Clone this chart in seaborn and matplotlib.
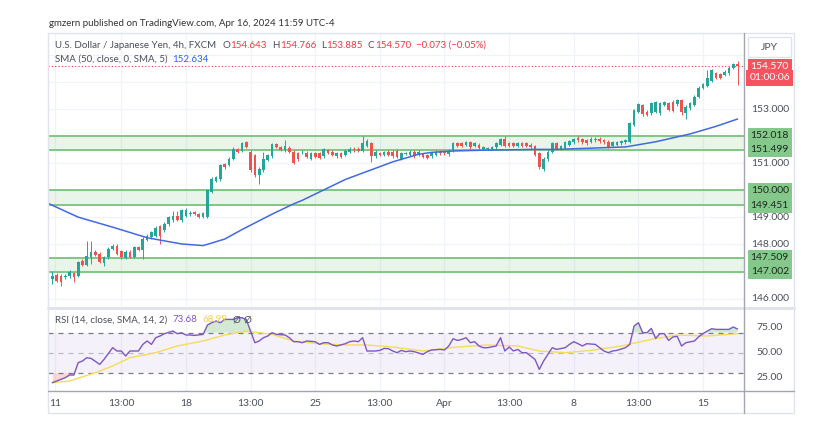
import numpy as np
import pandas as pd
import matplotlib
matplotlib.use("Agg")
import matplotlib.pyplot as plt
import seaborn as sns
from matplotlib.lines import Line2D
from matplotlib.patches import Rectangle

# USD/JPY 4h candles (Mar 11 -> Apr 16, 2024)
opens = [146.73, 146.89, 146.85, 146.79, 146.82, 146.94, 146.85, 147.38, 147.26, 147.53,
         147.72, 147.66, 147.30, 147.53, 147.84, 147.93, 147.75, 147.49, 147.74, 147.53,
         147.90, 147.78, 148.17, 148.27, 148.33, 148.67, 148.52, 148.74, 148.89, 149.07,
         148.89, 149.07, 149.12, 149.20, 149.11, 149.01, 149.03, 149.94, 150.35, 150.40,
         150.96, 150.93, 151.17, 151.51, 151.46, 151.78, 151.42, 151.30, 150.56, 150.74,
         151.13, 151.26, 151.70, 151.60, 151.48, 151.57, 151.42, 151.38, 151.40, 151.39,
         151.17, 151.38, 151.36, 151.26, 151.48, 151.42, 151.26, 151.36, 151.30, 151.42,
         151.54, 151.54, 151.46, 151.63, 151.75, 151.26, 151.38, 151.30, 151.42, 151.42,
         151.46, 151.17, 151.35, 151.30, 151.42, 151.30, 151.33, 151.30, 151.26, 151.30,
         151.42, 151.42, 151.33, 151.48, 151.73, 151.73, 151.67, 151.77, 151.63, 151.69,
         151.53, 151.54, 151.53, 151.58, 151.67, 151.91, 151.73, 151.73, 151.63, 151.73,
         151.75, 151.69, 151.63, 151.36, 150.80, 151.14, 151.42, 151.73, 151.52, 151.57,
         151.69, 151.77, 151.94, 151.89, 151.85, 151.79, 151.91, 151.91, 151.85, 151.79,
         151.64, 151.69, 151.73, 151.77, 151.79, 152.41, 152.90, 153.15, 152.90, 152.84,
         152.90, 152.84, 153.15, 153.21, 153.27, 153.17, 153.33, 152.84, 153.02, 153.15,
         153.46, 153.77, 153.86, 154.04, 154.32, 154.28, 154.26, 154.32, 154.53, 154.643]
closes = [146.85, 146.67, 146.63, 146.85, 146.98, 146.79, 147.35, 147.26, 147.59, 147.72,
          147.63, 147.35, 147.53, 147.84, 147.96, 147.66, 147.53, 147.74, 147.53, 147.90,
          147.80, 148.21, 148.33, 148.46, 148.62, 148.30, 148.77, 149.01, 149.07, 148.91,
          149.26, 149.26, 149.15, 149.14, 149.03, 149.16, 150.00, 150.43, 150.49, 150.93,
          150.86, 151.17, 151.54, 151.42, 151.75, 151.60, 150.74, 150.56, 150.80, 151.17,
          151.30, 151.70, 151.60, 151.50, 151.63, 151.42, 151.01, 151.14, 151.42, 151.23,
          151.36, 151.23, 151.21, 151.51, 151.38, 151.30, 151.36, 151.23, 151.46, 151.54,
          151.48, 151.46, 151.75, 151.83, 151.26, 151.42, 151.30, 151.40, 151.30, 151.26,
          151.23, 151.36, 151.36, 151.42, 151.26, 151.42, 151.23, 151.21, 151.36, 151.42,
          151.36, 151.36, 151.46, 151.73, 151.63, 151.63, 151.77, 151.58, 151.73, 151.57,
          151.58, 151.55, 151.60, 151.73, 151.88, 151.63, 151.63, 151.63, 151.73, 151.63,
          151.63, 151.58, 151.30, 150.86, 151.17, 151.42, 151.73, 151.54, 151.64, 151.77,
          151.81, 151.89, 151.85, 151.77, 151.73, 151.91, 151.85, 151.81, 151.77, 151.60,
          151.77, 151.77, 151.81, 151.85, 152.47, 152.96, 153.17, 152.80, 152.78, 153.21,
          153.25, 153.21, 153.25, 152.96, 152.93, 153.33, 152.88, 153.09, 153.21, 153.46,
          153.79, 153.91, 154.16, 154.44, 154.16, 154.16, 154.38, 154.53, 154.65, 154.570]
highs = [147.04, 146.95, 146.90, 146.90, 147.05, 146.99, 147.40, 147.45, 148.12, 148.12,
         147.78, 147.72, 147.58, 147.90, 148.02, 148.00, 147.80, 147.79, 147.78, 147.95,
         147.95, 148.26, 148.38, 148.51, 148.67, 148.72, 148.82, 149.06, 149.25, 149.22,
         149.30, 149.35, 149.22, 149.25, 149.16, 149.21, 150.05, 150.48, 150.54, 150.98,
         151.01, 151.22, 151.59, 151.56, 151.80, 151.83, 151.50, 151.35, 150.85, 151.42,
         151.35, 151.75, 151.75, 151.65, 151.85, 151.62, 151.47, 151.43, 151.48, 151.44,
         151.41, 151.43, 151.41, 151.56, 151.53, 151.47, 151.41, 151.41, 151.51, 151.59,
         151.59, 151.59, 152.00, 151.88, 151.80, 151.47, 151.43, 151.45, 151.47, 151.47,
         151.51, 151.41, 151.41, 151.47, 151.47, 151.47, 151.38, 151.35, 151.41, 151.47,
         151.47, 151.47, 151.51, 151.78, 151.78, 151.78, 151.82, 151.82, 151.78, 151.74,
         151.63, 151.60, 151.65, 151.78, 151.93, 152.00, 151.78, 151.78, 151.78, 151.78,
         151.80, 151.74, 151.68, 151.41, 151.22, 151.47, 151.78, 151.78, 151.69, 151.82,
         151.86, 151.94, 151.99, 151.94, 151.90, 151.96, 151.96, 151.96, 151.90, 151.84,
         151.82, 151.82, 151.86, 151.90, 152.52, 153.01, 153.22, 153.20, 152.95, 153.26,
         153.30, 153.26, 153.30, 153.26, 153.32, 153.38, 153.38, 153.14, 153.26, 153.51,
         153.84, 153.96, 154.44, 154.49, 154.37, 154.33, 154.43, 154.58, 154.70, 154.766]
lows = [146.54, 146.60, 146.48, 146.72, 146.78, 146.60, 146.80, 147.20, 147.20, 147.28,
        147.58, 147.30, 147.22, 147.48, 147.80, 147.60, 147.45, 147.45, 147.49, 147.49,
        147.75, 147.47, 148.12, 148.22, 148.28, 148.03, 148.47, 148.69, 148.84, 148.86,
        148.84, 149.02, 149.05, 149.08, 148.96, 148.96, 148.98, 149.89, 150.30, 150.35,
        150.80, 150.88, 151.12, 151.37, 151.41, 151.55, 150.69, 150.50, 150.25, 150.69,
        151.08, 151.21, 151.55, 151.45, 151.43, 151.37, 150.96, 151.09, 151.35, 151.18,
        151.12, 151.18, 151.16, 151.21, 151.33, 151.25, 151.21, 151.18, 151.25, 151.37,
        151.43, 151.41, 151.41, 151.58, 151.05, 151.21, 151.25, 151.25, 151.25, 151.21,
        151.18, 151.12, 151.30, 151.25, 151.21, 151.25, 151.18, 151.16, 151.21, 151.25,
        151.31, 151.31, 151.28, 151.43, 151.58, 151.58, 151.62, 151.53, 151.58, 151.52,
        151.48, 151.49, 151.48, 151.53, 151.62, 151.58, 151.58, 151.58, 151.58, 151.58,
        151.58, 151.53, 151.25, 150.80, 150.72, 151.09, 151.37, 151.49, 151.47, 151.52,
        151.64, 151.72, 151.80, 151.72, 151.68, 151.74, 151.80, 151.76, 151.72, 151.55,
        151.59, 151.64, 151.68, 151.72, 151.74, 152.36, 152.85, 152.75, 152.73, 152.79,
        152.85, 152.79, 153.10, 152.91, 152.88, 153.12, 152.78, 152.63, 152.97, 153.10,
        153.41, 153.72, 153.81, 153.99, 154.11, 154.11, 154.21, 154.27, 154.48, 153.885]

# SMA(50) read at a few bars
sma_idx = [-1, 6, 14, 22, 30, 35, 40, 44, 51, 56, 58, 68, 79, 85, 88, 93, 100, 112, 117, 133, 140, 148, 154, 159]
sma_vals = [149.52, 149.01, 148.64, 148.25, 148.02, 147.96, 148.20, 148.55, 149.12, 149.50, 149.63,
            150.40, 151.05, 151.33, 151.40, 151.45, 151.48, 151.51, 151.51, 151.60, 151.79, 152.08,
            152.36, 152.63]

# RSI(14) and its SMA(14)
rsi_idx = [0, 1, 2, 3, 4, 5, 6, 7, 8, 9, 11, 12, 14, 15, 16, 17, 18, 20, 21, 22, 23, 24, 25, 26,
           28, 29, 30, 31, 32, 33, 35, 36, 37, 38, 39, 40, 42, 43, 44, 45, 47, 48, 49, 50, 51, 52,
           54, 55, 56, 57, 58, 59, 61, 62, 63, 64, 65, 66, 68, 69, 70, 71, 72, 73, 75, 76, 77, 78,
           79, 80, 81, 82, 83, 84, 86, 87, 88, 90, 91, 92, 93, 94, 95, 96, 97, 98, 99, 100, 101,
           103, 104, 105, 106, 107, 108, 109, 110, 112, 113, 114, 115, 116, 117, 119, 120, 121,
           122, 123, 124, 126, 127, 128, 129, 130, 131, 133, 134, 135, 136, 137, 138, 139, 140,
           141, 142, 143, 144, 145, 146, 147, 149, 150, 151, 152, 153, 154, 156, 157, 158, 159]
rsi_vals = [20.0, 21.7, 23.3, 25.0, 27.7, 27.7, 40.0, 41.7, 45.0, 44.3, 38.3, 43.3, 55.0, 51.7,
            51.7, 46.7, 51.7, 51.7, 58.3, 61.7, 58.3, 65.0, 66.7, 69.0, 71.7, 69.0, 70.0, 67.7,
            67.7, 67.3, 68.3, 77.7, 80.0, 81.7, 80.0, 83.3, 83.3, 85.0, 85.0, 83.3, 60.0, 61.7,
            65.0, 66.7, 70.0, 68.3, 67.7, 65.0, 61.0, 61.0, 60.0, 61.7, 61.0, 58.3, 60.0, 60.0,
            57.7, 56.7, 59.0, 61.0, 61.7, 61.0, 65.0, 51.7, 51.7, 52.3, 54.3, 54.0, 51.7, 50.0,
            52.3, 51.0, 51.7, 51.0, 48.3, 51.0, 52.7, 53.3, 52.7, 56.7, 64.0, 62.3, 63.3, 65.0,
            60.0, 61.0, 56.7, 55.0, 55.0, 56.7, 65.0, 51.7, 55.7, 51.7, 53.3, 50.0, 50.0, 43.3,
            33.3, 41.7, 48.3, 55.0, 53.3, 55.0, 58.3, 61.0, 59.0, 56.7, 59.0, 58.3, 55.0, 51.7,
            50.0, 51.7, 52.3, 55.0, 58.3, 76.7, 80.0, 70.0, 70.0, 74.3, 64.3, 69.0, 69.0, 62.3,
            65.7, 66.3, 56.7, 60.0, 61.7, 66.0, 69.0, 71.7, 74.0, 73.3, 73.3, 73.3, 75.7, 73.68]
rsi_ma_idx = [0, 4, 10, 14, 18, 24, 29, 35, 40, 45, 51, 56, 62, 68, 73, 79, 86, 94, 101, 108,
              113, 119, 125, 132, 139, 145, 152, 159]
rsi_ma_vals = [20.0, 21.7, 30.0, 36.7, 45.0, 50.0, 56.7, 61.7, 67.7, 71.7, 68.3, 61.7, 59.0, 57.7,
               57.7, 55.7, 51.7, 55.7, 57.7, 56.7, 51.7, 50.0, 52.3, 56.7, 63.3, 67.7, 66.7, 68.99]

zone_low = [147.002, 149.451, 151.499]
zone_high = [147.509, 150.000, 152.018]
price_ticks = [146, 148, 149, 151, 153]
grid_prices = [146, 147, 148, 149, 150, 151, 152, 153, 154, 155]
tick_pos = [0.6, 16, 31, 46, 61, 76, 91, 106, 121, 136, 151]
tick_labels = ["11", "13:00", "18", "13:00", "25", "13:00", "Apr", "13:00", "8", "13:00", "15"]
last_price = 154.570

W, H = 830, 443
def fx(px):
    return px / W
def fy(py):
    return 1 - py / H

GREEN = "#26a69a"
RED = "#ef5350"
TXT = "#4a4e59"
TV_RED = "#f23645"

sns.set_theme(style="white")
plt.rcParams['font.family'] = ['Lato', 'DejaVu Sans']

fig = plt.figure(figsize=(8.3, 4.43), dpi=100)
ax = fig.add_axes([fx(48), fy(306), fx(744) - fx(48), fy(33) - fy(306)])
ax_rsi = fig.add_axes([fx(48), fy(391), fx(744) - fx(48), fy(310) - fy(391)])

df = pd.DataFrame({"o": opens, "h": highs, "l": lows, "c": closes})
df["x"] = np.arange(len(df))
df["up"] = df["c"] >= df["o"]
cols = np.where(df["up"], GREEN, RED)

def price_of(y):
    return 153 - (y - 109) / 27.1

# ---- price panel
ax.set_xlim(-1.0, 160.5)
ax.set_ylim(price_of(306), price_of(33))
for p in grid_prices:
    ax.axhline(p, color="#f0f3fa", lw=0.9, zorder=0)
for t in tick_pos:
    ax.axvline(t, color="#f0f3fa", lw=0.9, zorder=0)
for lo, hi in zip(zone_low, zone_high):
    ax.axhspan(lo, hi, color="#4caf50", alpha=0.12, lw=0, zorder=1)
    ax.axhline(lo, color="#81c784", lw=1.4, zorder=2)
    ax.axhline(hi, color="#81c784", lw=1.4, zorder=2)

ax.vlines(df["x"], df["l"], df["h"], colors=cols, lw=0.7, zorder=3)
body_lo = np.minimum(df["o"], df["c"])
body_h = np.maximum((df["c"] - df["o"]).abs(), 0.025)
ax.bar(df["x"], body_h, bottom=body_lo, width=0.62, color=cols, lw=0, zorder=4)

sns.lineplot(x=sma_idx, y=sma_vals, ax=ax, color="#4169e1", lw=1.1, zorder=5)
ax.axhline(last_price, color=TV_RED, ls=(0, (1, 2)), lw=0.8, zorder=2)

ax.set_xticks([])
ax.set_yticks([])
for s in ax.spines.values():
    s.set_visible(False)

ytr = ax.get_yaxis_transform()
for p in price_ticks:
    ax.text(1.037, p, f"{p:.3f}", transform=ytr, ha="center", va="center",
            fontsize=7.5, color=TXT, clip_on=False)
for v in zone_low + zone_high:
    ax.text(1.037, v, f"{v:.3f}", transform=ytr, ha="center", va="center",
            fontsize=7.5, color="#1b2a1b", clip_on=False,
            bbox=dict(boxstyle="square,pad=0.28", fc="#84c98b", ec="none"))
ax.text(1.037, last_price, f"{last_price:.3f}", transform=ytr, ha="center", va="center",
        fontsize=7.5, color="white", clip_on=False,
        bbox=dict(boxstyle="square,pad=0.3", fc="#f7525f", ec="none"))
ax.text(1.037, price_of(78), "01:00:06", transform=ytr, ha="center", va="center",
        fontsize=7.5, color="white", clip_on=False,
        bbox=dict(boxstyle="square,pad=0.3", fc="#f7525f", ec="none"))

# ---- RSI panel
def rsi_of(y):
    return 75 - (y - 327.7)

ax_rsi.set_xlim(-1.0, 160.5)
ax_rsi.set_ylim(rsi_of(391), rsi_of(310))
for t in tick_pos:
    ax_rsi.axvline(t, color="#f0f3fa", lw=0.9, zorder=0)
ax_rsi.axhspan(30, 70, color="#7e57c2", alpha=0.08, lw=0)
ax_rsi.axhline(70, color="#787b86", ls=(0, (4, 4)), lw=0.9)
ax_rsi.axhline(50, color="#787b86", ls=(0, (4, 4)), lw=0.9, alpha=0.45)
ax_rsi.axhline(30, color="#787b86", ls=(0, (4, 4)), lw=0.9)

r = np.array(rsi_vals)
ri = np.array(rsi_idx)
ax_rsi.fill_between(ri, r, 70, where=r > 70, interpolate=True, color="#4caf50", alpha=0.25, lw=0)
ax_rsi.fill_between(ri, r, 30, where=r < 30, interpolate=True, color=TV_RED, alpha=0.2, lw=0)
sns.lineplot(x=rsi_ma_idx, y=rsi_ma_vals, ax=ax_rsi, color="#f5dc5a", lw=1.0)
sns.lineplot(x=rsi_idx, y=rsi_vals, ax=ax_rsi, color="#7e57c2", lw=1.0)

ax_rsi.set_yticks([])
ax_rsi.set_xticks(tick_pos)
ax_rsi.set_xticklabels(tick_labels)
ax_rsi.tick_params(axis="x", length=0, pad=6, labelsize=7.5, labelcolor=TXT)
for s in ax_rsi.spines.values():
    s.set_visible(False)
ytr2 = ax_rsi.get_yaxis_transform()
for v in [75, 50, 25]:
    ax_rsi.text(1.037, v, f"{v:.2f}", transform=ytr2, ha="center", va="center",
                fontsize=7.5, color=TXT, clip_on=False)

# ---- frame and separators
def hline(y, x0, x1, c, lw):
    fig.add_artist(Line2D([fx(x0), fx(x1)], [fy(y), fy(y)], color=c, lw=lw))
def vline(x, y0, y1, c, lw):
    fig.add_artist(Line2D([fx(x), fx(x)], [fy(y0), fy(y1)], color=c, lw=lw))

fig.add_artist(Rectangle((fx(48), fy(413)), fx(794) - fx(48), fy(33) - fy(413),
                         fill=False, ec="#e0e3eb", lw=1))
hline(308, 48, 794, "#e0e3eb", 2.2)
hline(391, 48, 794, "#a3a6af", 1.0)
vline(744, 33, 413, "#a3a6af", 1.0)
fig.add_artist(Rectangle((fx(748), fy(57)), fx(43), fy(37) - fy(57), fc="white",
                         ec="#e0e3eb", lw=1))
fig.text(fx(769.5), fy(47), "JPY", fontsize=7.5, color=TXT, ha="center", va="center")

# ---- header texts, each piece placed right after the previous one
renderer = fig.canvas.get_renderer()

def chain(y, x0, parts, size=7):
    x = x0
    for txt, col, gap in parts:
        t = fig.text(fx(x), fy(y), txt, fontsize=size, color=col, va="center")
        x = t.get_window_extent(renderer).x1 + gap

fig.text(fx(49), fy(24), "gmzern published on TradingView.com, Apr 16, 2024 11:59 UTC-4",
         fontsize=7, color="#333333", va="center")
chain(45, 55, [("U.S. Dollar / Japanese Yen, 4h, FXCM", TXT, 6),
               ("O", TXT, 0.5), ("154.643", TV_RED, 5),
               ("H", TXT, 0.5), ("154.766", TV_RED, 5),
               ("L", TXT, 0.5), ("153.885", TV_RED, 5),
               ("C", TXT, 0.5), ("154.570", TV_RED, 5),
               ("\u22120.073 (\u22120.05%)", TV_RED, 0)])
chain(59, 55, [("SMA (50, close, 0, SMA, 5)", TXT, 5), ("152.634", "#2962ff", 0)])
chain(320, 55, [("RSI (14, close, SMA, 14, 2)", TXT, 5), ("73.68", "#7e57c2", 5),
                ("68.99", "#f5d23c", 5), ("\u00d8", TXT, 4), ("\u00d8", TXT, 0)])

fig.savefig("out.png", dpi=100, facecolor="white")
